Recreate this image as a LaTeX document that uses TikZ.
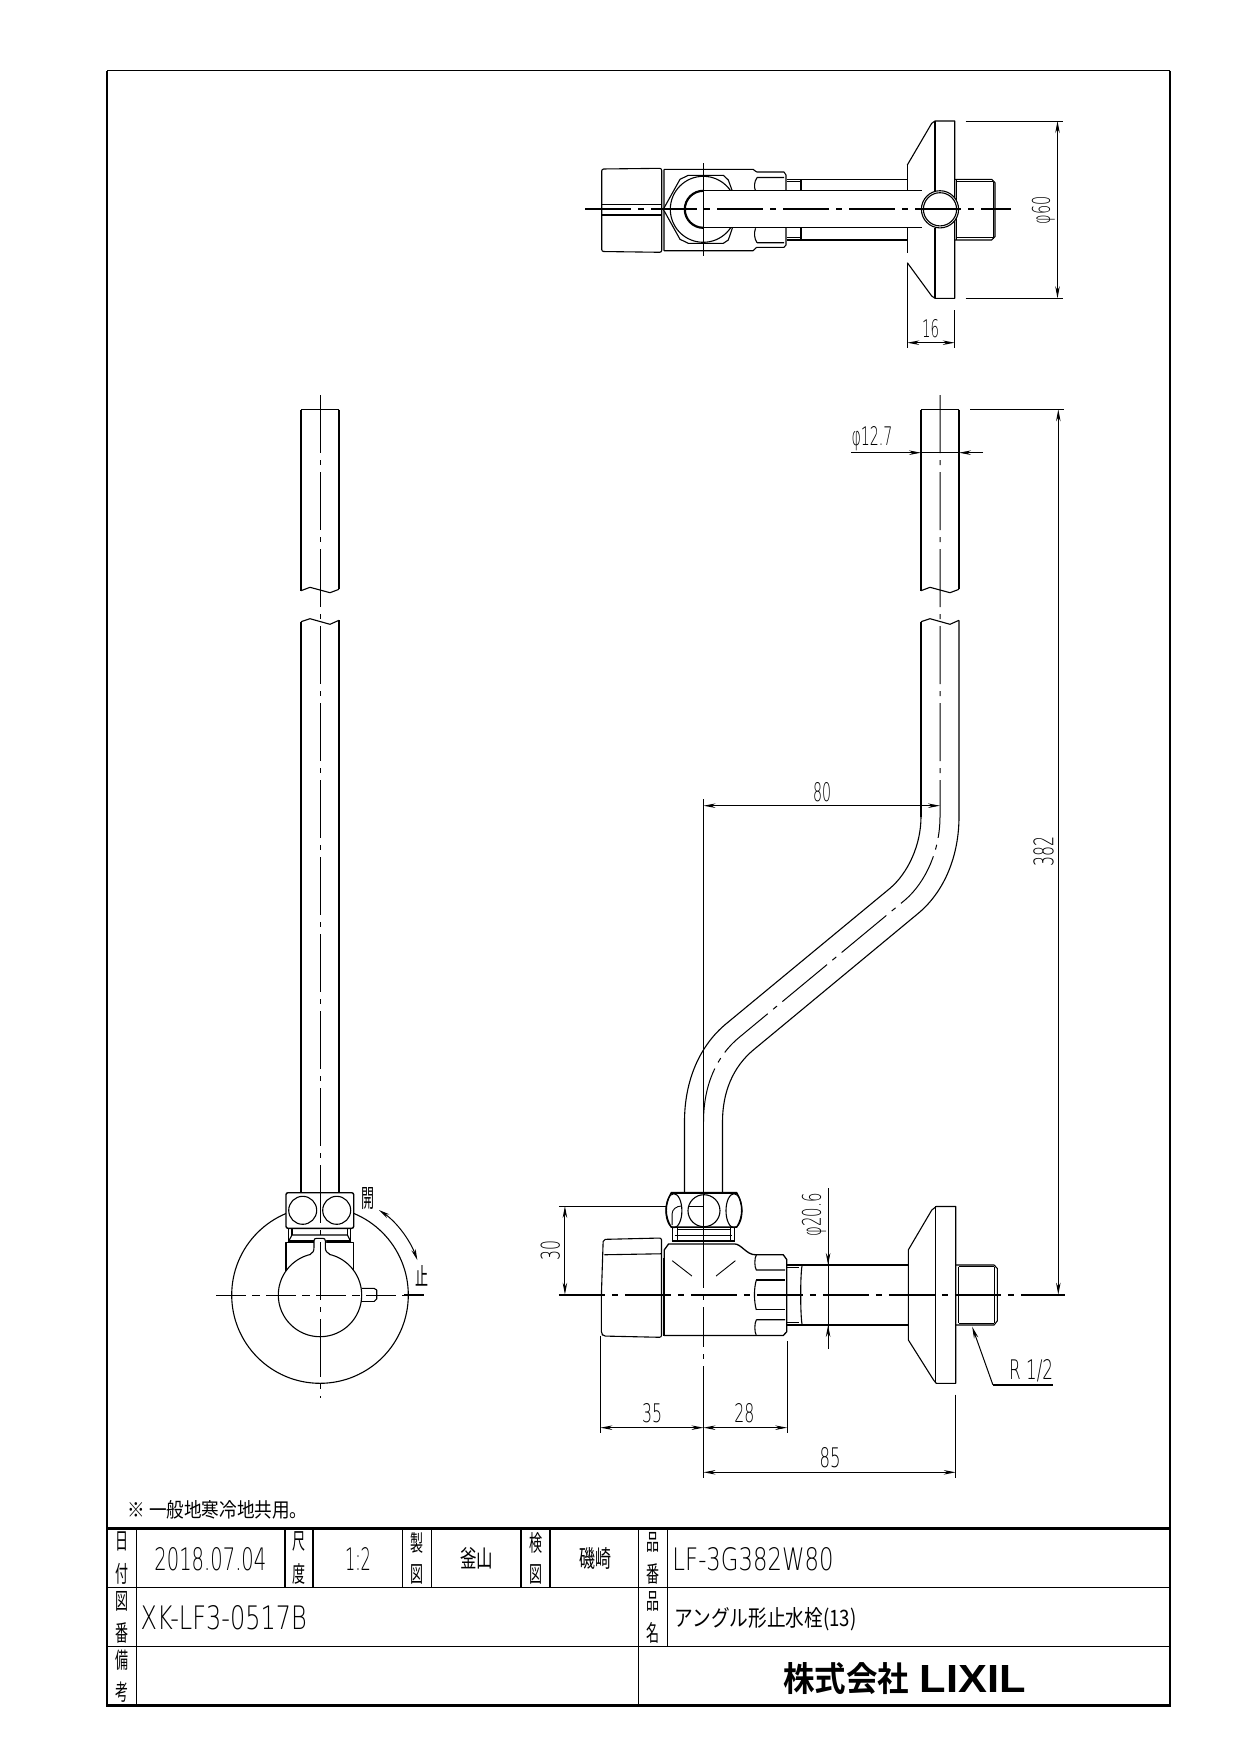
\documentclass[tikz,border=0pt]{standalone}
\usepackage{fontspec}
\usepackage{graphicx}
\usetikzlibrary{arrows.meta}
\setmainfont{Liberation Sans}
\newfontfamily\cad[UprightFont={* ExtraLight}]{DejaVu Sans}
\newfontfamily\jp{Noto Sans CJK JP}
\newfontfamily\jpb[UprightFont={* Bold}]{Noto Sans CJK JP}
\newcommand\fitbox[3]{\resizebox{#1pt}{#2pt}{#3}}
\newcommand\cadt[3]{\resizebox{#1pt}{#2pt}{\cad #3}}
\newcommand\stk[2]{\resizebox{13pt}{50pt}{\jp\shortstack{#1\\[2pt]#2}}}
\tikzset{
  every picture/.style={line join=round},
  outl/.style={line width=1.1pt,black},
  thk/.style={line width=1.9pt,black},
  thn/.style={line width=0.9pt,black},
  cl/.style={line width=1pt,black,dash pattern=on 46pt off 7pt on 6pt off 7pt},
  clb/.style={line width=1.8pt,black,dash pattern=on 46pt off 7pt on 6pt off 7pt},
  dimn/.style={line width=1pt,black,{Stealth[length=12pt,width=4.5pt]}-{Stealth[length=12pt,width=4.5pt]}},
  ext/.style={line width=0.9pt,black},
  lbl/.style={inner sep=0pt,outer sep=0pt,black},
}
\begin{document}
\begin{tikzpicture}[x=1pt,y=-1pt]
\useasboundingbox (0,0) rectangle (1240,1754);
\fill[white] (0,0) rectangle (1240,1754);

% ---------- frame and title block
\draw[line width=1.6pt] (107.4,70.5) -- (1170.2,70.5);
\draw[line width=2pt] (107.4,70.5) -- (107.4,1705.5);
\draw[line width=2.4pt] (1170.2,70.5) -- (1170.2,1705.5);
\draw[line width=2.8pt] (107.4,1528.5) -- (1170.2,1528.5);
\draw[line width=3pt] (106.4,1705.5) -- (1171.4,1705.5);
\draw[thn] (107.4,1587.5) -- (1170.2,1587.5);
\draw[thn] (107.4,1646) -- (1170.2,1646);
\draw[line width=1.1pt] (136.5,1528.5) -- (136.5,1705.5);
\foreach \xx in {285,313,402.5,431.5,521}{\draw[line width=1.1pt] (\xx,1528.5) -- (\xx,1587.5);}
\draw[line width=1.8pt] (550,1528.5) -- (550,1587.5);
\draw[line width=1.1pt] (638.5,1528.5) -- (638.5,1705.5);
\draw[line width=1.6pt] (667.6,1528.5) -- (667.6,1646);

\node[lbl] (note) at (217.5,1509.5) {\fitbox{180}{17}{\jp ※ 一般地寒冷地共用。}};
\node[lbl] (l1) at (122,1558) {\stk{日}{付}};
\node[lbl] (l2) at (299,1558) {\stk{尺}{度}};
\node[lbl] (l3) at (417,1558) {\stk{製}{図}};
\node[lbl] (l4) at (535.5,1558) {\stk{検}{図}};
\node[lbl] (l5) at (653,1558) {\stk{品}{番}};
\node[lbl] (l6) at (122,1617) {\stk{図}{番}};
\node[lbl] (l7) at (653,1617) {\stk{品}{名}};
\node[lbl] (l8) at (122,1676) {\stk{備}{考}};
\node[lbl] (date) at (210.4,1559) {\cadt{112}{23}{2018.07.04}};
\node[lbl] (scale) at (358,1559) {\cadt{26}{23}{1:2}};
\node[lbl] (p1) at (476.5,1558) {\fitbox{33}{20}{\jp 釜山}};
\node[lbl] (p2) at (595,1558) {\fitbox{32}{20}{\jp 磯崎}};
\node[lbl] (dwg) at (223.7,1618) {\cadt{166}{24}{XK-LF3-0517B}};
\node[lbl] (pn) at (753,1559) {\cadt{161}{23}{LF-3G382W80}};
\node[lbl] (name) at (765.5,1619.5) {\fitbox{182}{19}{\jp アングル形止水栓(13)}};
\node[lbl] (co) at (846,1679) {\fitbox{126}{29}{\jpb 株式会社}};
\node[lbl] (lx) at (973,1679) {\resizebox{106pt}{27pt}{\bfseries LIXIL}};

% ---------- top view
\draw[outl,fill=white,rounded corners=2pt] (601.7,169) -- (661.7,168.3) -- (661.7,252.3) -- (601.7,251.5) -- cycle;
\draw[outl] (602,204.3) -- (661.7,204.3) (602,215) -- (661.7,215);
\draw[outl] (664,169.3) -- (753,169.3) -- (756.7,172) (664,169.3) -- (664,250.7) -- (753,250.7) -- (756.7,247.3);
\draw[outl] (756.7,172) -- (784,172) -- (786,175) -- (786,245) -- (784,247.3) -- (756.7,247.3);
\draw[outl] (757,177.5) -- (784,177.5) (757,177.5) .. controls (754,182) and (754,187) .. (755.5,191);
\draw[outl] (757,242.7) -- (784,242.7) (757,242.7) .. controls (754,238) and (754,233) .. (755.5,228.3);
\draw[outl] (786.7,179.3) -- (907.3,179.3) (786.7,240) -- (907.3,240);
\draw[outl] (786.7,181.8) -- (801,181.8) (786.7,237.5) -- (801,237.5);
\draw[outl] (801,179.3) -- (801,191) (801,228.3) -- (801,240);
% flange
\draw[outl,fill=white] (907.3,165) -- (931.7,123.3) -- (935,121) -- (954.7,121) -- (954.7,298.3) -- (935,298.3) -- (931.7,296) -- (907.3,262.7);
\draw[outl] (907.3,165) -- (907.3,253.3);
\draw[outl] (935,121) -- (935,298.3);
\draw[outl] (954.7,179.3) -- (991.7,179.3) -- (995,182.7) -- (995,236.7) -- (991.7,240) -- (954.7,240);
\draw[thn] (956.5,179.3) -- (956.5,240) (993.3,181.7) -- (993.3,238.5) (956.5,181.7) -- (993.3,181.7) (956.5,237.5) -- (993.3,237.5);
% nut
\draw[outl,fill=white] (663.3,209.3) -- (680,179.3) -- (688.3,175.3) -- (723.3,175.3) -- (728.3,180) -- (732.3,191) -- (732.3,228.3) -- (728.3,240) -- (723.3,243.3) -- (688.3,243.3) -- (680,239.3) -- cycle;
\draw[outl] (703.3,209.3) circle[radius=33pt];
% pipe
\fill[white] (703.3,190.8) -- (940,190.8) -- (940,227.8) -- (703.3,227.8) -- cycle;
\draw[outl] (703.3,190.8) -- (922,190.8) (703.3,227.8) -- (922,227.8);
\draw[line width=2.2pt] (703.3,190.8) .. controls (693.1,190.8) and (684.8,199.1) .. (684.8,209.3) .. controls (684.8,219.5) and (693.1,227.8) .. (703.3,227.8);
\draw[outl,fill=white] (940,209.3) circle[radius=18.6pt];
\draw[outl] (940,209.3) circle[radius=16.6pt];
\draw[clb] (585,209.3) -- (1010.7,209.3);
\draw[thn] (703.3,163.3) -- (703.3,255.7);
% dims top view
\draw[ext] (965.7,121) -- (1063.3,121) (965.7,298.3) -- (1063.3,298.3);
\draw[dimn] (1057.5,121) -- (1057.5,298.3);
\node[lbl,rotate=90] (d60) at (1043.3,210) {\cadt{28}{18}{φ60}};
\draw[ext] (907.3,262.7) -- (907.3,348.3) (954.7,310) -- (954.7,348.3);
\draw[dimn] (907.3,342.7) -- (954.7,342.7);
\node[lbl] (d16) at (930.7,328.3) {\cadt{17}{18}{16}};

% ---------- side view pipe
\draw[outl] (921,409.5) -- (959,409.5);
\draw[line width=1.6pt] (921,409.5) -- (921,590.7);
\draw[outl] (959,409.5) -- (959,589.3);
\draw[outl] (921,590.7) -- (930,587.3) -- (950,592.7) -- (959,589.3);
\draw[outl] (921,621.7) -- (930,618.7) -- (950,624.3) -- (959,620.3);
\draw[line width=1.6pt] (921,621.7) -- (921,816.7);
\draw[outl] (921,816.7) .. controls (921,845) and (908,873) .. (890,888.3) -- (726.7,1023.3) .. controls (700,1045) and (684.5,1080) .. (684.5,1121.7) -- (684.5,1192);
\draw[outl] (959,620.3) -- (959,816.7) .. controls (959,855) and (945,891) .. (918.3,913.3) -- (753.3,1050) .. controls (733,1067) and (722.5,1092) .. (722.5,1121.7) -- (722.5,1192);
\draw[cl,dash pattern=on 58pt off 7pt on 5pt off 7pt] (940,395) -- (940,816.7) .. controls (940,850) and (926,882) .. (905,900) -- (740,1036.7) .. controls (716,1056) and (703.5,1086) .. (703.5,1121.7);
\draw[thn] (703.5,799) -- (703.5,1248);
\draw[thn,dash pattern=on 40pt off 7pt on 5pt off 7pt] (703.5,1248) -- (703.5,1372);
\draw[ext] (703.5,1372) -- (703.5,1478);

% ---------- side view valve
\begin{scope}[x=0.9969pt,y=-0.9853pt,xshift=1.67pt,yshift=-17.2pt]
% flange
\draw[outl] (909.5,1251) -- (933,1210.6) -- (937.5,1207) -- (957,1207) -- (957,1386.5) -- (937.5,1386.5) -- (934.7,1383) -- (909.5,1342.5) -- cycle;
\draw[outl] (936.8,1207) -- (936.8,1386.5);
% thread
\draw[outl] (957,1266.4) -- (995.5,1266.4) -- (998.8,1270) -- (998.8,1323) -- (995.5,1327.3) -- (957,1327.3);
\draw[thn] (960,1268) -- (995.5,1268) (960,1325.6) -- (995.5,1325.6) (960,1268) -- (960,1325.6) (995.5,1268) -- (995.5,1325.6);
% tube
\draw[outl] (787.6,1266.4) -- (909.5,1266.4) (787.6,1327.3) -- (909.5,1327.3);
\draw[outl] (787.6,1268.5) -- (800,1268.5) (787.6,1325) -- (800,1325);
\draw[outl] (803,1266.4) .. controls (801,1275) and (801,1318) .. (803,1327.3);
\draw[outl] (787.6,1266.4) -- (787.6,1327.3);
% body
\draw[line width=1.3pt] (664.7,1251) -- (669,1245) -- (735,1245) .. controls (742,1245) and (747,1256) .. (756,1256) -- (784,1256) -- (787.6,1261) -- (787.6,1334) -- (784,1338) -- (664.7,1338) -- cycle;
\draw[outl] (757,1256) .. controls (755,1260) and (755,1268) .. (757,1271.5) -- (785.8,1271.5);
\draw[outl] (757,1281.6) -- (785.8,1281.6) (757,1312) -- (785.8,1312);
\draw[outl] (757,1281.6) .. controls (754.5,1290) and (754.5,1303) .. (757,1312);
\draw[outl] (757,1322) -- (785.8,1322) (757,1322) .. controls (755,1326) and (755,1334) .. (757,1338);
\draw[thn] (672.6,1262) -- (692.4,1277.6) (736,1262) -- (716.6,1277.6);
% handle cap
\draw[outl,rounded corners=2pt] (603.4,1240.4) -- (661.9,1239) -- (661.9,1339.8) -- (603.4,1338.5) -- (601.6,1336) -- (601.6,1296) -- cycle;
\draw[outl] (604.5,1256) -- (661.9,1255);
\draw[outl] (663.5,1259.6) -- (663.5,1338.5);
% collar
\draw[outl] (673.3,1228) -- (673.3,1241.7) (677.5,1228) -- (677.5,1241.7) (731,1228) -- (731,1241.7) (735,1228) -- (735,1241.7);
\draw[outl] (677.5,1230) -- (731,1230) (675,1236) -- (733,1236);
\draw[line width=2.2pt] (672,1241.7) -- (736,1241.7);
% nut
\draw[line width=1.4pt,fill=white] (671.6,1193) .. controls (665,1205) and (665,1217) .. (671.6,1228) -- (737.4,1228) .. controls (744,1217) and (744,1205) .. (737.4,1193) -- cycle;
\draw[line width=2pt] (671.6,1193) -- (737.4,1193);
\draw[outl] (674.3,1211.3) ellipse[x radius=8pt,y radius=17pt];
\draw[outl] (704.5,1211.3) circle[radius=16pt];
\draw[outl] (734.6,1211.3) ellipse[x radius=8pt,y radius=17pt];
\draw[thn] (704,1192) -- (704,1250);
\draw[thn] (689.5,1206.5) -- (704,1206.5);
\draw[thn] (672.6,1226) -- (672.6,1214) .. controls (672.6,1210) and (677,1206.5) .. (682,1206.5);
% centre line
\draw[clb] (559,1296.5) -- (1067,1296.5);
% dims side view
\draw[ext] (559,1206.5) -- (666,1206.5);
\draw[dimn] (565,1206.5) -- (565,1296.5);
\node[lbl,rotate=90] (d30) at (550.4,1252) {\cadt{20}{19}{30}};
\draw[ext] (600.6,1338) -- (600.6,1437) (788,1344) -- (788,1437);
\draw[dimn] (600.6,1431.5) -- (704,1431.5);
\draw[dimn] (704,1431.5) -- (788,1431.5);
\node[lbl] (d35) at (652.5,1417) {\cadt{20}{19}{35}};
\node[lbl] (d28) at (745,1417) {\cadt{20}{19}{28}};
\draw[ext] (957,1398) -- (957,1483);
\draw[ext] (704,1430) -- (704,1483);
\draw[dimn] (704,1476.8) -- (957,1476.8);
\node[lbl] (d85) at (831,1461.6) {\cadt{21}{20}{85}};
\draw[ext] (829,1188.6) -- (829,1351.7);
\draw[line width=1pt,-{Stealth[length=12pt,width=4.5pt]}] (829,1240) -- (829,1266.4);
\draw[line width=1pt,-{Stealth[length=12pt,width=4.5pt]}] (829,1351.7) -- (829,1327.3);
\node[lbl,rotate=90] (d206) at (815,1215.6) {\cadt{43}{19}{φ20.6}};
\coordinate (rtip) at (973.5,1329);
\coordinate (relb) at (994.3,1388);
\coordinate (rend) at (1055,1388);
\draw[line width=1pt,{Stealth[length=12pt,width=4.5pt]}-] (rtip) -- (relb);
\draw[line width=1.5pt] (relb) -- (rend);
\node[lbl] (r12) at (1032.7,1374) {\cadt{44}{20}{R 1/2}};
\end{scope}
% 80
\draw[dimn] (703.5,805.7) -- (940,805.7);
\node[lbl] (d80) at (822,791.7) {\cadt{18}{19}{80}};
% 382
\draw[ext] (970,409.3) -- (1063.5,409.3);
\draw[dimn] (1058.3,409.3) -- (1058.3,1294.7);
\node[lbl,rotate=90] (d382) at (1043.5,851) {\cadt{30}{20}{382}};
% 12.7
\coordinate (p1) at (851,452.7);
\coordinate (p2) at (921,452.7);
\coordinate (p3) at (959,452.7);
\coordinate (p4) at (983,452.7);
\draw[line width=1pt,-{Stealth[length=12pt,width=4.5pt]}] (p1) -- (p2);
\draw[line width=1pt,-{Stealth[length=12pt,width=4.5pt]}] (p4) -- (p3);
\draw[thn] (p2) -- (p3);
\node[lbl] (d127) at (872,439) {\cadt{41}{19}{φ12.7}};

% ---------- left view
\draw[outl] (301,409.5) -- (339,409.5) (339,409.5) -- (339,589.3);
\draw[outl] (301,409.5) -- (301,590.7);
\draw[outl] (301,590.7) -- (310,587.3) -- (330,592.7) -- (339,589.3);
\draw[outl] (301,621.7) -- (310,618.7) -- (330,624.3) -- (339,620.3);
\draw[outl] (301,621.7) -- (301,1193);
\draw[outl] (339,620.3) -- (339,1193);
\draw[outl] (320,1295) circle[radius=88.3pt];
\draw[outl,fill=white] (286,1242.7) -- (353.7,1242.7) -- (353.7,1272) -- (286,1272) -- cycle;
\draw[outl] (288.3,1228) -- (288.3,1241.7) (292,1228) -- (292,1235) (347.5,1228) -- (347.5,1235) (350.7,1228) -- (350.7,1241.7);
\draw[outl] (292,1235) -- (347.5,1235) (292,1235) -- (288.3,1241.7) (347.5,1235) -- (350.7,1241.7);
\draw[line width=2pt] (288.3,1240.7) -- (350.7,1240.7);
\draw[line width=1.4pt,fill=white,rounded corners=2pt] (286,1192.7) rectangle (353.7,1228.3);
\draw[outl] (302.7,1210.3) circle[radius=14pt] (336.7,1210.3) circle[radius=14pt];
\draw[outl,fill=white] (320,1295) circle[radius=41.7pt];
\fill[white] (311,1255) -- (314,1247) -- (314,1239) -- (326,1239) -- (326,1247) -- (329,1255) -- cycle;
\draw[outl,fill=white] (310,1254.5) .. controls (313,1253) and (314,1251) .. (314,1247.3) -- (314,1240.7) .. controls (314,1239) and (315,1238.3) .. (316.7,1238.3) -- (322.7,1238.3) .. controls (324.5,1238.3) and (325.3,1239) .. (325.3,1240.7) -- (325.3,1247.3) .. controls (325.3,1251) and (327,1253) .. (330,1254.5);
\draw[outl] (361.7,1288.3) -- (374,1288.3) -- (376.7,1290) -- (376.7,1299) -- (374,1301.5);
\draw[line width=1.6pt] (374,1301.5) -- (361,1301.5);
\draw[cl,dash pattern=on 30pt off 6pt on 8pt off 6pt] (216,1295) -- (424,1295);
\draw[line width=1.8pt] (404,1295) -- (424,1295);
\draw[thn,dash pattern=on 58pt off 7pt on 5pt off 7pt] (320,395) -- (320,1398);
\coordinate (oa) at (379,1210);
\coordinate (ob) at (417.3,1260);
\draw[line width=1pt,{Stealth[length=11pt,width=4.5pt]}-{Stealth[length=11pt,width=4.5pt]}] (oa) .. controls (396.7,1222.1) and (409.9,1240) .. (ob);
\node[lbl] (open) at (368.3,1198) {\fitbox{13}{20}{\jp 開}};
\node[lbl] (stop) at (422.3,1276) {\fitbox{13}{20}{\jp 止}};
\end{tikzpicture}
\end{document}
